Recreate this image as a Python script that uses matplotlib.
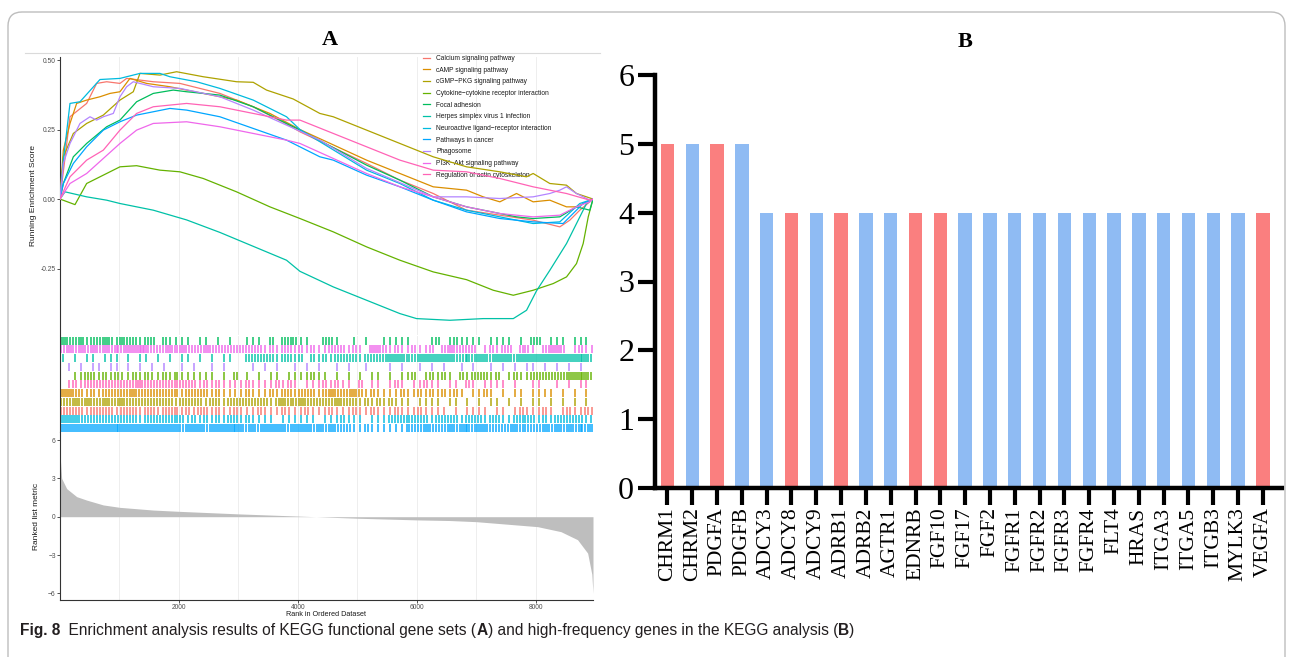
import matplotlib.pyplot as plt
from matplotlib.patches import FancyBboxPatch
from matplotlib.lines import Line2D
from matplotlib.transforms import IdentityTransform

W, H = 1293, 657

# ---------------- panel A : running enrichment score (rank, ES) ----------------
calcium_rank = [0, 168, 448, 616, 784, 1008, 1120, 1568, 2016, 2688, 3248, 3808, 4034, 5154, 5714, 6274, 6834, 7394, 7954, 8402, 8570, 8738, 8960]
calcium_es = [0, 0.296, 0.344, 0.416, 0.422, 0.416, 0.434, 0.422, 0.416, 0.380, 0.332, 0.270, 0.242, 0.128, 0.068, 0.020, -0.040, -0.058, -0.076, -0.100, -0.076, -0.040, 0]

camp_rank = [0, 56, 168, 280, 448, 672, 840, 1008, 1176, 1456, 1848, 2408, 2968, 3528, 4034, 5154, 5714, 6274, 6834, 7114, 7394, 7674, 7954, 8234, 8514, 8682, 8960]
camp_es = [0, 0.176, 0.272, 0.344, 0.356, 0.368, 0.380, 0.386, 0.434, 0.416, 0.404, 0.380, 0.356, 0.308, 0.250, 0.140, 0.092, 0.044, 0.032, 0.008, -0.010, 0.020, -0.010, -0.004, -0.028, -0.028, 0]

cgmp_rank = [0, 56, 224, 448, 728, 1008, 1232, 1344, 1680, 1960, 2408, 2968, 3248, 3472, 3920, 4368, 4594, 5154, 5714, 6274, 6834, 7394, 7842, 7954, 8234, 8514, 8682, 8850, 8960]
cgmp_es = [0, 0.152, 0.236, 0.272, 0.302, 0.356, 0.386, 0.452, 0.446, 0.458, 0.440, 0.422, 0.420, 0.392, 0.360, 0.308, 0.296, 0.248, 0.200, 0.152, 0.116, 0.098, 0.080, 0.092, 0.056, 0.050, 0.020, 0.008, 0]

cytokine_rank = [0, 252, 448, 728, 1008, 1288, 1680, 2016, 2408, 2968, 3528, 4034, 4594, 5154, 5714, 6274, 6835, 7283, 7620, 7955, 8291, 8515, 8683, 8795, 8880, 8960]
cytokine_es = [0, -0.02, 0.056, 0.086, 0.116, 0.120, 0.104, 0.098, 0.074, 0.026, -0.028, -0.070, -0.118, -0.172, -0.220, -0.262, -0.290, -0.328, -0.346, -0.328, -0.304, -0.280, -0.232, -0.160, -0.064, 0]

focal_rank = [0, 56, 224, 448, 784, 1008, 1288, 1568, 1904, 2128, 2688, 3248, 3808, 4034, 5154, 5714, 6274, 6834, 7394, 7674, 7954, 8402, 8682, 8906, 8960]
focal_es = [0, 0.056, 0.152, 0.200, 0.260, 0.284, 0.350, 0.380, 0.392, 0.386, 0.374, 0.332, 0.272, 0.248, 0.122, 0.068, 0.008, -0.028, -0.052, -0.064, -0.070, -0.064, -0.028, -0.040, 0]

herpes_rank = [0, 84, 448, 784, 1008, 1568, 2128, 2688, 3248, 3808, 4034, 4594, 5154, 5714, 5994, 6555, 7115, 7620, 7843, 8011, 8235, 8515, 8683, 8851, 8960]
herpes_es = [0, 0.026, 0.008, -0.004, -0.016, -0.040, -0.075, -0.120, -0.170, -0.220, -0.260, -0.316, -0.364, -0.412, -0.430, -0.436, -0.430, -0.430, -0.400, -0.330, -0.256, -0.160, -0.088, -0.016, 0]

neuro_rank = [0, 56, 168, 336, 672, 1008, 1344, 1680, 1848, 2296, 2688, 3248, 3808, 4034, 5154, 5714, 6274, 6834, 7394, 7954, 8402, 8738, 8906, 8960]
neuro_es = [0, 0.140, 0.344, 0.350, 0.430, 0.434, 0.452, 0.452, 0.440, 0.422, 0.398, 0.356, 0.296, 0.250, 0.104, 0.056, -0.004, -0.040, -0.064, -0.088, -0.082, -0.016, -0.004, 0]

cancer_rank = [0, 56, 224, 448, 728, 1008, 1288, 1568, 1848, 2128, 2688, 3248, 3808, 4368, 4594, 5154, 5714, 6274, 6834, 7394, 7954, 8458, 8626, 8794, 8960]
cancer_es = [0, 0.056, 0.128, 0.188, 0.248, 0.278, 0.302, 0.314, 0.326, 0.320, 0.296, 0.254, 0.212, 0.152, 0.140, 0.086, 0.044, -0.004, -0.046, -0.070, -0.082, -0.088, -0.052, -0.016, 0]

phago_rank = [0, 56, 168, 336, 504, 616, 728, 896, 1008, 1120, 1232, 1568, 2016, 2688, 3248, 3808, 4368, 5154, 6274, 6834, 7394, 7954, 8234, 8402, 8514, 8682, 8906, 8960]
phago_es = [0, 0.128, 0.200, 0.272, 0.296, 0.284, 0.296, 0.308, 0.368, 0.404, 0.422, 0.404, 0.398, 0.368, 0.320, 0.266, 0.212, 0.110, 0.008, 0.008, 0.002, 0.008, 0.020, 0.032, 0.044, 0.020, -0.004, 0]

pi3k_rank = [0, 168, 448, 1008, 1288, 1568, 2128, 2688, 3248, 3808, 4034, 5154, 5714, 6274, 6834, 7394, 7954, 8402, 8682, 8906, 8960]
pi3k_es = [0, 0.056, 0.092, 0.200, 0.248, 0.272, 0.278, 0.260, 0.236, 0.212, 0.200, 0.092, 0.044, 0.008, -0.028, -0.052, -0.064, -0.058, -0.028, -0.010, 0]

actin_rank = [0, 168, 448, 728, 1008, 1288, 1568, 2128, 2688, 3248, 3808, 4034, 4594, 5154, 5714, 6274, 6834, 7394, 7954, 8514, 8906, 8960]
actin_es = [0, 0.080, 0.140, 0.176, 0.248, 0.308, 0.332, 0.344, 0.332, 0.308, 0.284, 0.284, 0.236, 0.188, 0.140, 0.104, 0.098, 0.074, 0.044, 0.020, -0.004, 0]

pathways = ['Calcium signaling pathway', 'cAMP signaling pathway', 'cGMP\u2212PKG signaling pathway',
            'Cytokine\u2212cytokine receptor interaction', 'Focal adhesion', 'Herpes simplex virus 1 infection',
            'Neuroactive ligand\u2212receptor interaction', 'Pathways in cancer', 'Phagosome',
            'PI3K\u2212Akt signaling pathway', 'Regulation of actin cytoskeleton']
curves = [(calcium_rank, calcium_es), (camp_rank, camp_es), (cgmp_rank, cgmp_es),
          (cytokine_rank, cytokine_es), (focal_rank, focal_es), (herpes_rank, herpes_es),
          (neuro_rank, neuro_es), (cancer_rank, cancer_es), (phago_rank, phago_es),
          (pi3k_rank, pi3k_es), (actin_rank, actin_es)]
palette = ['#F8766D', '#DB8E00', '#AEA200', '#64B200', '#00BD5C', '#00C1A7',
           '#00BADE', '#00A6FF', '#B385FF', '#EF67EB', '#FF63B6']

# gene-set hits: hits per 100-rank bin (top to bottom)
barcode_order = [4, 9, 5, 8, 3, 10, 1, 2, 0, 6, 7]
hits_focal = "322312232132212202111101101010" + "011102022211002210010100111110" + "001201211110111101022011101110"
hits_pi3k = "232323232323343222323222322222" + "222212122121211222121033212112" + "112023222201212202210233201211"
hits_herpes = "101011011101011010101101010110" + "022222122120212122221222233322" + "333333223233233323333333333332"
hits_phago = "010101101101010101001010010100" + "001010100101010010100100010100" + "101010010100101010110101010100"
hits_cytokine = "001122121211212112121111110102" + "010101101111211010101011010112" + "012121021222120121122222233332"
hits_actin = "012122222222232222222221212111" + "121111212101112121102011012101" + "121101102101111010011001010110"
hits_camp = "332212122222322222221222212111" + "121112122122212322232121111211" + "212121210112101011011110101010"
hits_cgmp = "223232232232222222212222122122" + "222221232232222232221212121110" + "111101101010110101011010101010"
hits_calcium = "222212222122212212221212212112" + "111211121112111211121121112111" + "211110101111011012111210121121"
hits_neuro = "333222222222212222222121212122" + "121111011111101112111011122222" + "221222212221221122221212222212"
hits_cancer = "333333333333333333332333233333" + "323233332333232322211211111122" + "232223233233222232222323232323"
barcode_rows = [hits_focal, hits_pi3k, hits_herpes, hits_phago, hits_cytokine, hits_actin,
                hits_camp, hits_cgmp, hits_calcium, hits_neuro, hits_cancer]

# ranked list metric (rank, value)
metric_rank = [0, 5, 28, 112, 280, 448, 728, 1008, 1568, 2000, 3000, 4000, 4300, 5000, 6000, 6555, 7000, 8030, 8420, 8700, 8870, 8940, 8960]
metric_value = [5.0, 4.6, 3.0, 2.2, 1.57, 1.3, 0.92, 0.73, 0.52, 0.42, 0.22, 0.05, 0.0, -0.12, -0.25, -0.30, -0.39, -0.78, -1.17, -1.8, -2.85, -4.5, -6.0]
n_genes = 8960

# ---------------- panel B : high-frequency genes ----------------
genes = ['CHRM1', 'CHRM2', 'PDGFA', 'PDGFB', 'ADCY3', 'ADCY8', 'ADCY9', 'ADRB1', 'ADRB2', 'AGTR1',
         'EDNRB', 'FGF10', 'FGF17', 'FGF2', 'FGFR1', 'FGFR2', 'FGFR3', 'FGFR4', 'FLT4', 'HRAS',
         'ITGA3', 'ITGA5', 'ITGB3', 'MYLK3', 'VEGFA']
counts = [5, 5, 5, 5, 4, 4, 4, 4, 4, 4, 4, 4, 4, 4, 4, 4, 4, 4, 4, 4, 4, 4, 4, 4, 4]
gene_group = ['r', 'b', 'r', 'b', 'b', 'r', 'b', 'r', 'b', 'b', 'r', 'r', 'b', 'b', 'b', 'b',
              'b', 'b', 'b', 'b', 'b', 'b', 'b', 'b', 'r']
group_color = {'r': '#FA7F7F', 'b': '#8FBBF3'}


def px_rect(x0, y0, x1, y1):
    return [x0 / W, 1 - y1 / H, (x1 - x0) / W, (y1 - y0) / H]


plt.rcParams['font.family'] = ['Liberation Sans', 'DejaVu Sans']
fig = plt.figure(figsize=(W / 100, H / 100), dpi=100)

grid_col = '#EBEBEB'
axis_col = '#333333'
tick_lab = '#4D4D4D'


def style_panel(ax):
    for s in ['top', 'right', 'bottom']:
        ax.spines[s].set_visible(False)
    ax.spines['left'].set_color(axis_col)
    ax.spines['left'].set_linewidth(0.8)
    ax.set_xlim(0, n_genes)
    ax.set_xticks([2000, 4000, 6000, 8000])
    ax.set_xticks([1000, 3000, 5000, 7000], minor=True)
    ax.grid(axis='x', which='both', color=grid_col, lw=0.6)
    ax.set_axisbelow(True)
    ax.tick_params(axis='x', which='both', length=0, labelbottom=False)
    ax.tick_params(axis='y', length=2, width=0.6, color=axis_col, labelsize=4.8,
                   labelcolor=tick_lab, pad=1)


# running score
ax1 = fig.add_axes(px_rect(60, 57, 593, 335))
style_panel(ax1)
handles = []
for name, (rk, es), col in zip(pathways, curves, palette):
    ln, = ax1.plot(rk, es, color=col, lw=0.9, label=name, zorder=3)
    handles.append(ln)
ax1.set_ylim(-0.489, 0.511)
ax1.set_yticks([-0.25, 0, 0.25, 0.5])
ax1.set_yticklabels(['-0.25', '0.00', '0.25', '0.50'])
ax1.set_ylabel('Running Enrichment Score', fontsize=6, color='#1a1a1a', labelpad=3)
leg = ax1.legend(handles=handles, loc='upper left', bbox_to_anchor=(423 / W, 1 - 55 / H),
                 bbox_transform=fig.transFigure, fontsize=4.8, frameon=False,
                 handlelength=1.1, handletextpad=0.9, labelspacing=0.7,
                 borderpad=0, borderaxespad=0)
leg.set_zorder(1)
for t in leg.get_texts():
    t.set_color('#1a1a1a')

# barcode rows
ax2 = fig.add_axes(px_rect(60, 336, 593, 432))
style_panel(ax2)
ax2.set_ylim(0, len(barcode_rows))
ax2.set_yticks([])
for j, (idx, row) in enumerate(zip(barcode_order, barcode_rows)):
    ranks = []
    for b, ch in enumerate(row):
        c = int(ch)
        for k in range(c):
            r = b * 100 + (k + 0.5) * 100 / c
            if r < n_genes:
                ranks.append(r)
    top = len(barcode_rows) - j
    ax2.vlines(ranks, top - 1.0, top - 0.08, color=palette[idx], lw=1.3, alpha=0.8)

# ranked list metric
ax3 = fig.add_axes(px_rect(60, 432, 593, 600))
style_panel(ax3)
ax3.spines['bottom'].set_visible(True)
ax3.spines['bottom'].set_color(axis_col)
ax3.spines['bottom'].set_linewidth(0.8)
ax3.fill_between(metric_rank, metric_value, 0, color='#BEBEBE', lw=0)
ax3.set_ylim(-6.52, 6.63)
ax3.set_yticks([-6, -3, 0, 3, 6])
ax3.tick_params(axis='x', which='major', length=2, width=0.6, color=axis_col,
                labelbottom=True, labelsize=4.8, labelcolor=tick_lab, pad=1)
ax3.set_ylabel('Ranked list metric', fontsize=6, color='#1a1a1a', labelpad=6)
ax3.set_xlabel('Rank in Ordered Dataset', fontsize=5.2, color='#1a1a1a', labelpad=0)

fig.text(330 / W, 1 - 40 / H, 'A', family='Liberation Serif', weight='bold', fontsize=16,
         ha='center', va='center')

# ---------------- panel B ----------------
ax4 = fig.add_axes(px_rect(655, 75, 1282, 488))
ax4.bar(range(len(genes)), counts, width=0.54, color=[group_color[g] for g in gene_group])
ax4.set_xlim(-0.5, len(genes) - 0.23)
ax4.set_ylim(0, 6)
for s in ['top', 'right']:
    ax4.spines[s].set_visible(False)
for s in ['left', 'bottom']:
    ax4.spines[s].set_linewidth(3.2)
    ax4.spines[s].set_color('black')
ax4.set_xticks(range(len(genes)))
ax4.set_xticklabels(genes, rotation=90, family='Liberation Serif', fontsize=15.5)
ax4.set_yticks(range(7))
ax4.set_yticklabels([str(v) for v in range(7)], family='Liberation Serif', fontsize=23)
ax4.tick_params(length=12, width=3, color='black', pad=3)
ax4.tick_params(axis='x', pad=2)

fig.text(965 / W, 1 - 42 / H, 'B', family='Liberation Serif', weight='bold', fontsize=16,
         ha='center', va='center')

# frame and separator
fig.add_artist(Line2D([25 / W, 600 / W], [1 - 53 / H, 1 - 53 / H], color='#DADADA', lw=0.8))
frame = FancyBboxPatch((8, -30), 1277, H - 12 + 30, boxstyle='round,pad=0,rounding_size=14',
                       transform=IdentityTransform(), fill=False, ec='#BDBDBD', lw=1.0)
fig.add_artist(frame)

# caption with mixed weights
pieces = [('Fig. 8', 'bold'), ('  Enrichment analysis results of KEGG functional gene sets (', 'normal'),
          ('A', 'bold'), (') and high-frequency genes in the KEGG analysis (', 'normal'),
          ('B', 'bold'), (')', 'normal')]
renderer = fig.canvas.get_renderer()
x = 20
for txt, wt in pieces:
    t = fig.text(x, H - 635, txt, fontsize=11.2, weight=wt, family='Liberation Sans',
                 color='#231F20', transform=IdentityTransform(), va='baseline')
    x = t.get_window_extent(renderer).x1

fig.savefig('out.png', dpi=100)
